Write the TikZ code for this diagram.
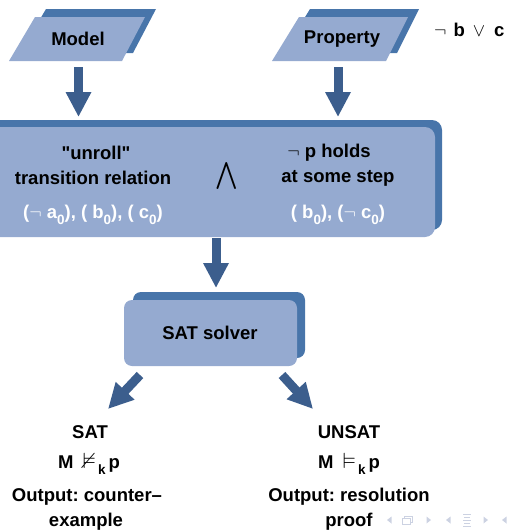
\documentclass[tikz,border=0pt]{standalone}
\usepackage{amsmath,amssymb}
\usepackage{graphicx}
\usepackage{fontspec}
\setmainfont{Liberation Sans}
\usetikzlibrary{arrows.meta}
\frenchspacing

\definecolor{boxfront}{RGB}{149,170,208}
\definecolor{boxback}{RGB}{72,117,170}
\definecolor{flowblue}{RGB}{60,94,141}
\definecolor{navgray}{RGB}{204,210,226}

% lowered small index, e.g. a_0 or |=_k
\newcommand{\lowidx}[1]{\raisebox{-6pt}{\fontsize{13.5}{14}\selectfont #1}}
% thin math symbol scaled up to the label size
\newcommand{\msym}[1]{{\fontsize{10}{10}\selectfont\scalebox{1.85}{$#1$}}}
\newcommand{\relsym}[1]{{\fontsize{10}{10}\selectfont\scalebox{2.2}{$#1$}}}

\begin{document}
\begin{tikzpicture}[x=1pt,y=-1pt,
  lbl/.style={font=\fontsize{18.5}{20}\selectfont\bfseries, text=black, inner sep=0pt},
  wlbl/.style={lbl, text=white},
  front/.style={fill=boxfront, draw=none},
  back/.style={fill=boxback, draw=none},
  flow/.style={draw=flowblue, line width=9pt, -{Triangle[width=24pt,length=25pt]}},
  navmark/.style={fill=navgray, draw=none},
  navline/.style={draw=navgray, line width=1pt}]
\useasboundingbox (0,0) rectangle (508,530);
\clip (0,0) rectangle (508,530);

% ---- input parallelograms ----
\fill[back]  (46,9) -- (156,9) -- (133,53) -- (20,53) -- cycle;
\fill[front] (35,17) -- (145,17) -- (122,61) -- (9,61) -- cycle;
\node[lbl] (model) at (78,39) {Model};

\fill[back]  (310,9) -- (419,9) -- (397,53) -- (283,53) -- cycle;
\fill[front] (299,17) -- (408,17) -- (386,61) -- (272,61) -- cycle;
\node[lbl] (property) at (342,39) {Property};

\node[lbl, anchor=west] (prop) at (434,30)
  {\msym{\neg}\hspace{7pt}b\hspace{8pt}\msym{\vee}\hspace{9pt}c};

% ---- unrolled formula box ----
\fill[back, rounded corners=10pt]  (-30,120) rectangle (442,230);
\fill[front, rounded corners=10pt] (-30,127) rectangle (435,237);

\node[lbl] (unroll) at (96,153) {\textquotedbl unroll\textquotedbl};
\node[lbl] (trans) at (93,178) {transition relation};
\node[wlbl, anchor=base] (initvals) at (93,218) {(\msym{\neg} a\lowidx{0}), ( b\lowidx{0}), ( c\lowidx{0})};
\node[inner sep=0pt] (conj) at (227,176) {\fontsize{10}{10}\selectfont\scalebox{2.7}{$\bigwedge$}};
\node[lbl] (negp) at (329,153) {\msym{\neg} p holds};
\node[lbl] (somestep) at (338,178) {at some step};
\node[wlbl, anchor=base] (stepvals) at (338,218) {( b\lowidx{0}), (\msym{\neg} c\lowidx{0})};

% ---- solver box ----
\fill[back, rounded corners=8pt]  (133,292) rectangle (305,358);
\fill[front, rounded corners=8pt] (124,300) rectangle (297,366);
\node[lbl] (solver) at (210,333) {SAT solver};

% ---- outcomes ----
\node[lbl] (sat) at (90,432) {SAT};
\node[lbl, anchor=base] (satrel) at (89,468)
  {M\hspace{9pt}\relsym{\nvDash}\hspace{2pt}\lowidx{k}\hspace{3pt}p};
\node[lbl] (satout1) at (87,497) {Output: counter–};
\node[lbl] (satout2) at (86,522) {example};

\node[lbl] (unsat) at (349,432) {UNSAT};
\node[lbl, anchor=base] (unsatrel) at (349,468)
  {M\hspace{9pt}\relsym{\vDash}\hspace{2pt}\lowidx{k}\hspace{3pt}p};
\node[lbl] (unsatout1) at (349,497) {Output: resolution};
\node[lbl] (unsatout2) at (349,522) {proof};

% ---- flow arrows ----
\coordinate (model-out) at (78.5,67);
\coordinate (model-in) at (78.5,117);
\coordinate (prop-out) at (338,67);
\coordinate (prop-in) at (338,117);
\coordinate (box-out) at (216,238);
\coordinate (solver-in) at (216,288);
\coordinate (solver-l) at (140,375);
\coordinate (sat-in) at (108,409);
\coordinate (solver-r) at (282,375);
\coordinate (unsat-in) at (313,409);

\draw[flow] (model-out) -- (model-in);
\draw[flow] (prop-out) -- (prop-in);
\draw[flow] (box-out) -- (solver-in);
\draw[flow] (solver-l) -- (sat-in);
\draw[flow] (solver-r) -- (unsat-in);

% ---- navigation marks ----
\fill[navmark] (391.5,516.5) -- (387,520) -- (391.5,523.5) -- cycle;
\draw[navline, line width=0.8pt] (404,516) rectangle (412,522);
\draw[navline, line width=0.8pt, fill=white] (402,518) rectangle (410,524);
\fill[navmark] (426.5,516.5) -- (431,520) -- (426.5,523.5) -- cycle;
\fill[navmark] (450.5,516.5) -- (446,520) -- (450.5,523.5) -- cycle;
\draw[navline] (463,514.5) -- (471,514.5);
\draw[navline] (464,517.5) -- (470,517.5);
\draw[navline] (463,520.5) -- (471,520.5);
\draw[navline] (464,523.5) -- (470,523.5);
\draw[navline] (463,526.5) -- (471,526.5);
\fill[navmark] (483.5,516.5) -- (488,520) -- (483.5,523.5) -- cycle;
\fill[navmark] (506.5,516.5) -- (502,520) -- (506.5,523.5) -- cycle;
\end{tikzpicture}
\end{document}
